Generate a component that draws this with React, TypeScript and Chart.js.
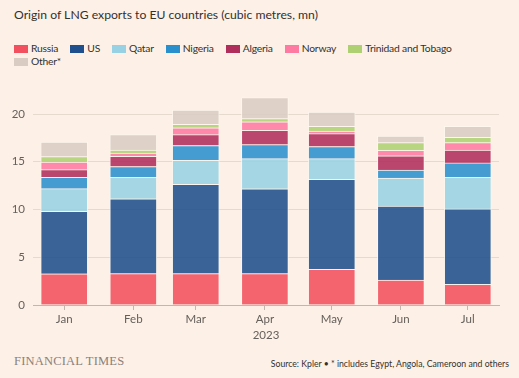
import React, { useEffect, useRef } from "react";
import { Chart, registerables } from "chart.js";

Chart.register(...registerables);

const months = ["Jan", "Feb", "Mar", "Apr", "May", "Jun", "Jul"];
// day offsets from 1 Jan 2023 (time-scale positions)
const monthDays = [0, 31, 59, 90, 120, 151, 181];

const russia = [3.26, 3.29, 3.29, 3.29, 3.74, 2.61, 2.16];
const us = [6.55, 7.84, 9.35, 8.87, 9.42, 7.76, 7.9];
const qatar = [2.37, 2.23, 2.51, 3.16, 2.16, 2.93, 3.3];
const nigeria = [1.2, 1.14, 1.55, 1.48, 1.28, 0.82, 1.52];
const algeria = [0.79, 1.07, 1.14, 1.48, 1.34, 1.51, 1.34];
const norway = [0.79, 0.33, 0.72, 0.9, 0.27, 0.56, 0.79];
const trinidad = [0.59, 0.32, 0.37, 0.34, 0.51, 0.82, 0.55];
const other = [1.5, 1.62, 1.48, 2.19, 1.49, 0.68, 1.16];

const seriesNames = ["Russia", "US", "Qatar", "Nigeria", "Algeria", "Norway", "Trinidad and Tobago", "Other*"];
const seriesValues = [russia, us, qatar, nigeria, algeria, norway, trinidad, other];
const seriesColors = ["#f2505e", "#1f4f8c", "#99d1e4", "#2a8fcd", "#b02e5c", "#ff7aa2", "#aed073", "#d9ccc3"];

const yTicks = [0, 5, 10, 15, 20];

const BG = "#fdf0e6";
const FONT = "Lato, 'Noto Sans', sans-serif";

export default function App() {
  const ref = useRef<HTMLCanvasElement | null>(null);

  useEffect(() => {
    if (!ref.current) return;
    const chart = new Chart(ref.current, {
      type: "bar",
      data: {
        datasets: seriesNames.map((name, i) => ({
          label: name,
          data: seriesValues[i].map((v, j) => ({ x: monthDays[j], y: v })),
          backgroundColor: seriesColors[i] + "e0",
          borderColor: "rgba(255,248,240,0.75)",
          borderWidth: 1,
          barThickness: 47,
        })),
      },
      options: {
        responsive: false,
        animation: false,
        layout: { padding: { top: 12, right: 20, left: 0, bottom: 0 } },
        plugins: { legend: { display: false }, tooltip: { enabled: false } },
        scales: {
          x: {
            type: "linear",
            stacked: true,
            offset: false,
            min: -14,
            max: 195,
            afterBuildTicks: (scale: any) => {
              scale.ticks = monthDays.map((v) => ({ value: v }));
            },
            afterFit: (scale: any) => {
              scale.height = 40;
            },
            ticks: {
              autoSkip: false,
              maxRotation: 0,
              padding: 2,
              color: "#66605c",
              font: { family: FONT, size: 11.5 },
              callback: (_v: any, i: number) => months[i],
            },
            grid: {
              offset: false,
              drawOnChartArea: false,
              drawTicks: true,
              tickLength: 5,
              color: "#c2b7ae",
            },
            border: { display: true, color: "#c2b7ae", width: 1 },
            title: {
              display: true,
              text: "2023",
              color: "#66605c",
              font: { family: FONT, size: 11.5 },
              padding: { top: 0, bottom: 3 },
            },
          },
          y: {
            stacked: true,
            min: 0,
            max: 22,
            afterBuildTicks: (scale: any) => {
              scale.ticks = yTicks.map((v) => ({ value: v }));
            },
            afterFit: (scale: any) => {
              scale.width = 33;
            },
            ticks: {
              padding: 8,
              color: "#66605c",
              font: { family: FONT, size: 11.5 },
            },
            grid: { drawTicks: false, color: "#e6d9ce" },
            border: { display: false },
          },
        },
      },
    });
    return () => chart.destroy();
  }, []);

  const legendItem = (i: number) => (
    <div key={i} style={{ display: "flex", alignItems: "center", marginRight: 12 }}>
      <span style={{ display: "inline-block", width: 14, height: 8, background: seriesColors[i], marginRight: 3 }} />
      <span>{seriesNames[i]}</span>
    </div>
  );

  return (
    <div
      style={{
        position: "absolute",
        left: 0,
        top: 0,
        width: 519,
        height: 378,
        background: BG,
        fontFamily: FONT,
        overflow: "hidden",
      }}
    >
      <div style={{ position: "absolute", left: 14, top: 7, fontSize: 12.2, color: "#33302e", whiteSpace: "nowrap" }}>
        Origin of LNG exports to EU countries (cubic metres, mn)
      </div>
      <div
        style={{
          position: "absolute",
          left: 14,
          top: 42,
          fontSize: 10.3,
          letterSpacing: -0.2,
          color: "#33302e",
          lineHeight: "13px",
        }}
      >
        <div style={{ display: "flex" }}>{[0, 1, 2, 3, 4, 5, 6].map(legendItem)}</div>
        <div style={{ display: "flex" }}>{legendItem(7)}</div>
      </div>
      <canvas ref={ref} width={519} height={265} style={{ position: "absolute", left: 0, top: 80, width: 519, height: 265 }} />
      <div
        style={{
          position: "absolute",
          left: 14,
          top: 354,
          fontFamily: "'Liberation Serif', 'DejaVu Serif', serif",
          fontSize: 12.5,
          color: "#8a817c",
          letterSpacing: 0.2,
          whiteSpace: "nowrap",
        }}
      >
        FINANCIAL TIMES
      </div>
      <div
        style={{
          position: "absolute",
          right: 10,
          top: 358,
          fontSize: 8.7,
          color: "#33302e",
          whiteSpace: "nowrap",
        }}
      >
        Source: Kpler • * includes Egypt, Angola, Cameroon and others
      </div>
    </div>
  );
}
